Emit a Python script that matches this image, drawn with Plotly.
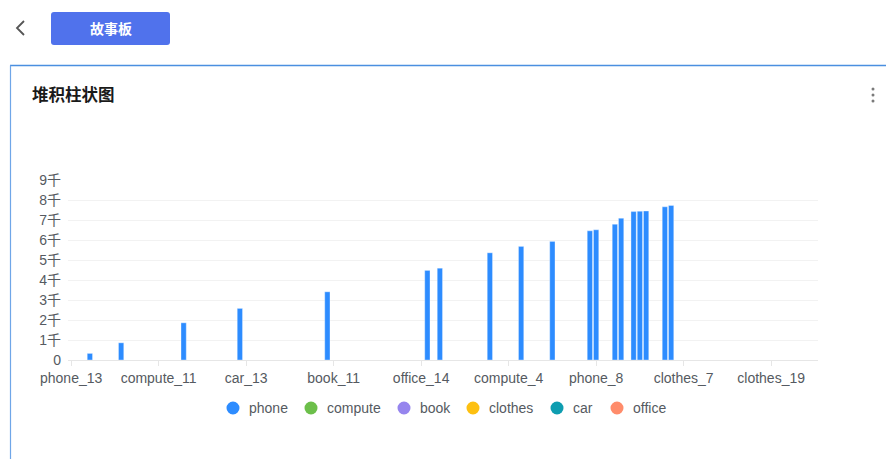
import plotly.graph_objects as go

# page body has an 8px margin: the figure is drawn at (8, 8) in the window
OFF = 8
W, H = 894 - OFF, 459 - OFF

# ---------------- data ----------------
series_names = ["phone", "compute", "book", "clothes", "car", "office"]
series_colors = ["#2D8CFF", "#6CBF4A", "#9685EE", "#FDC011", "#0E9DB0", "#FF8C6B"]

category_count = 120
tick_positions = [0, 14, 28, 42, 56, 70, 84, 98, 112]
tick_labels = ["phone_13", "compute_11", "car_13", "book_11", "office_14",
               "compute_4", "phone_8", "clothes_7", "clothes_19"]

phone_positions = [3, 8, 18, 27, 41, 57, 59, 67, 72, 77, 83, 84, 87, 88, 90, 91, 92, 95, 96]
phone_values = [330, 860, 1860, 2580, 3410, 4480, 4590, 5360, 5680, 5930,
                6460, 6510, 6790, 7090, 7420, 7440, 7450, 7660, 7730]

y_tick_values = [0, 1000, 2000, 3000, 4000, 5000, 6000, 7000, 8000, 9000]
y_tick_labels = ["0", "1千", "2千", "3千", "4千", "5千", "6千", "7千", "8千", "9千"]

title_text = "堆积柱状图"
button_text = "故事板"


def px(x):
    return (x - OFF) / W


def py(y):
    return 1 - (y - OFF) / H


FONT = "Liberation Sans, Arial, Noto Sans CJK SC, sans-serif"
TEXT_COLOR = "#555A61"

fig = go.Figure()

fig.add_trace(go.Bar(
    x=phone_positions, y=phone_values, name="phone",
    marker=dict(color=series_colors[0], line=dict(color="rgba(255,255,255,0.6)", width=0.6)),
    width=0.85, showlegend=False,
))

# plot area (window px): x 68..818, y 180..360
fig.update_layout(
    width=W, height=H,
    margin=dict(l=0, r=0, t=0, b=0, autoexpand=False),
    paper_bgcolor="white", plot_bgcolor="white",
    barmode="stack",
    showlegend=False,
    font=dict(family=FONT, size=14, color=TEXT_COLOR),
    xaxis=dict(
        domain=[px(68), px(818)],
        range=[-0.5, category_count - 0.5],
        tickmode="array", tickvals=tick_positions, ticktext=tick_labels,
        showgrid=False, zeroline=False, automargin=False,
        showline=True, linecolor="#E6E6E6", linewidth=1,
        ticks="outside", ticklen=5, tickcolor="#E6E6E6",
        tickfont=dict(size=14, color=TEXT_COLOR),
        fixedrange=True,
    ),
    yaxis=dict(
        domain=[py(360), py(180)],
        range=[0, 9000],
        tickmode="array", tickvals=y_tick_values, ticktext=y_tick_labels,
        showgrid=True, gridcolor="#F2F2F2", gridwidth=1,
        zeroline=False, showline=False, automargin=False,
        ticks="", ticklabelstandoff=6,
        tickfont=dict(size=14, color=TEXT_COLOR),
        fixedrange=True,
    ),
)

shapes = []
# card border (top + left)
shapes.append(dict(type="line", xref="paper", yref="paper",
                   x0=px(10), x1=px(894), y0=py(65.5), y1=py(65.5),
                   line=dict(color="#4A8FE0", width=1.5)))
shapes.append(dict(type="line", xref="paper", yref="paper",
                   x0=px(10.5), x1=px(10.5), y0=py(65.5), y1=py(459),
                   line=dict(color="#6FA6E8", width=1.2)))
# back chevron
shapes.append(dict(type="path", xref="paper", yref="paper",
                   path=f"M {px(24)} {py(21)} L {px(17)} {py(28)} L {px(24)} {py(35)}",
                   line=dict(color="#555555", width=1.8)))
# button (rounded rect)
x0, x1, y0, y1, r = 51, 170, 12, 45, 3
path = (f"M {px(x0 + r)} {py(y0)} L {px(x1 - r)} {py(y0)} Q {px(x1)} {py(y0)} {px(x1)} {py(y0 + r)} "
        f"L {px(x1)} {py(y1 - r)} Q {px(x1)} {py(y1)} {px(x1 - r)} {py(y1)} "
        f"L {px(x0 + r)} {py(y1)} Q {px(x0)} {py(y1)} {px(x0)} {py(y1 - r)} "
        f"L {px(x0)} {py(y0 + r)} Q {px(x0)} {py(y0)} {px(x0 + r)} {py(y0)} Z")
shapes.append(dict(type="path", xref="paper", yref="paper", path=path,
                   fillcolor="#5072EC", line=dict(width=0)))
# kebab menu dots
for cy in (89, 95, 101):
    shapes.append(dict(type="circle", xref="paper", yref="paper",
                       x0=px(871.5), x1=px(874.5), y0=py(cy - 1.5), y1=py(cy + 1.5),
                       fillcolor="#7A7A7A", line=dict(width=0)))

# legend (circle + label), drawn as shapes and text
legend_circle_x = [233, 311, 404, 473, 557, 617]
legend_y = 408
for name, color, cx in zip(series_names, series_colors, legend_circle_x):
    shapes.append(dict(type="circle", xref="paper", yref="paper",
                       x0=px(cx - 6.5), x1=px(cx + 6.5), y0=py(legend_y + 6.5), y1=py(legend_y - 6.5),
                       fillcolor=color, line=dict(width=0)))
    fig.add_annotation(text=name, xref="paper", yref="paper",
                       x=px(cx + 13.5), y=py(legend_y), xanchor="left", yanchor="middle",
                       showarrow=False, font=dict(size=14, color=TEXT_COLOR))
fig.update_layout(shapes=shapes)

fig.add_annotation(text=f"<b>{button_text}</b>", xref="paper", yref="paper",
                   x=px(110.5), y=py(28.5), xanchor="center", yanchor="middle",
                   showarrow=False, font=dict(family="Noto Sans CJK SC", size=14, color="white"))
fig.add_annotation(text=f"<b>{title_text}</b>", xref="paper", yref="paper",
                   x=px(30), y=py(94), xanchor="left", yanchor="middle",
                   showarrow=False, font=dict(family="Noto Sans CJK SC", size=16.5, color="#1A1A1A"))

fig.write_html("out.html")
